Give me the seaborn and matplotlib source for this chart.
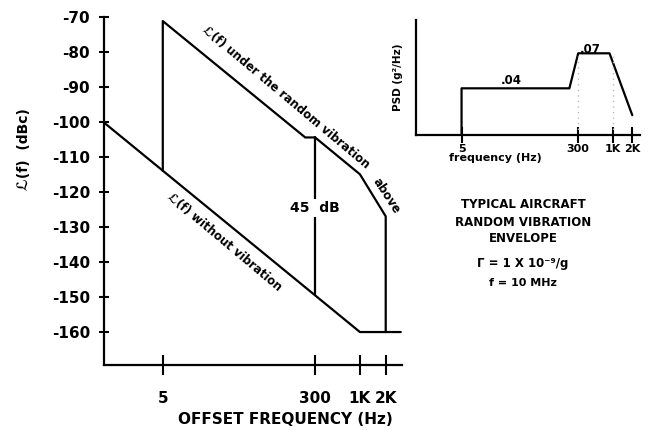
import matplotlib
matplotlib.use("Agg")
import matplotlib.pyplot as plt
import seaborn as sns
import pandas as pd

# ---- data ----
lower_freq = [1, 1000, 3000]
lower_db = [-100, -160, -160]
upper_freq = [5, 5, 230, 300, 1000, 2000, 2000]
upper_db = [-114, -71.3, -104.5, -104.5, -115, -127, -160]
marker_freq = [300, 300]
marker_db = [-104.5, -149.5]
psd_freq = [5, 5, 220, 300, 900, 2000]
psd_val = [0, 0.04, 0.04, 0.07, 0.07, 0.017]
main_xticks = [5, 300, 1000, 2000]
main_xticklabels = ["5", "300", "1K", "2K"]
main_yticks = [-70, -80, -90, -100, -110, -120, -130, -140, -150, -160]
inset_xticks = [5, 300, 1000, 2000]
inset_xticklabels = ["5", "300", "1K", "2K"]

sns.set_theme(style="white")
plt.rcParams["font.family"] = ["DejaVu Sans"]
plt.rcParams["font.weight"] = "bold"
plt.rcParams["axes.labelweight"] = "bold"
plt.rcParams["text.color"] = "black"
plt.rcParams["axes.labelcolor"] = "black"
plt.rcParams["xtick.color"] = "black"
plt.rcParams["ytick.color"] = "black"

fig = plt.figure(figsize=(6.48, 4.30), dpi=100)

# ---------------- main axes ----------------
ax = fig.add_axes([0.1605, 0.1512, 0.4599, 0.8104])
lw = 1.6
df_low = pd.DataFrame({"f": lower_freq, "db": lower_db})
df_up = pd.DataFrame({"f": upper_freq, "db": upper_db})
df_mk = pd.DataFrame({"f": marker_freq, "db": marker_db})
for d in (df_low, df_up, df_mk):
    sns.lineplot(data=d, x="f", y="db", ax=ax, sort=False, estimator=None,
                 color="black", linewidth=lw)
ax.set_xscale("log")
ax.set_xlim(1.03, 3100)
ax.set_ylim(-169.4, -70)
ax.set_xticks(main_xticks)
ax.set_xticklabels(main_xticklabels)
ax.xaxis.set_minor_locator(matplotlib.ticker.NullLocator())
ax.set_yticks(main_yticks)
ax.set_yticklabels([str(v) for v in main_yticks])
for s in ("top", "right"):
    ax.spines[s].set_visible(False)
for s in ("left", "bottom"):
    ax.spines[s].set_color("black")
    ax.spines[s].set_linewidth(1.6)
ax.tick_params(axis="y", direction="inout", length=7, width=1.5, pad=6.5,
               labelsize=11, colors="black", left=True)
ax.tick_params(axis="x", direction="inout", length=14, width=1.5, pad=12,
               labelsize=11, colors="black", bottom=True)
for t in ax.get_xticklabels() + ax.get_yticklabels():
    t.set_fontweight("bold")

ax.set_xlabel("OFFSET FREQUENCY (Hz)", fontsize=11, fontweight="bold")
ax.xaxis.set_label_coords(0.607, -0.135)
ax.set_ylabel("ℒ(f)  (dBc)", fontsize=10, fontweight="bold")
ax.yaxis.set_label_coords(-0.245, 0.62)

ax.text(135, -93, "ℒ(f) under the random vibration", rotation=-40,
        ha="center", va="center", fontsize=8.5, fontweight="bold",
        rotation_mode="anchor")
ax.text(2030, -121.3, "above", rotation=-57, ha="center", va="center",
        fontsize=8.5, fontweight="bold", rotation_mode="anchor")
ax.text(26, -134.4, "ℒ(f) without vibration", rotation=-40,
        ha="center", va="center", fontsize=8.5, fontweight="bold",
        rotation_mode="anchor")
ax.text(300, -124.7, "45  dB", ha="center", va="center", fontsize=10,
        fontweight="bold", zorder=5,
        bbox=dict(facecolor="white", edgecolor="none", pad=1.5))

# ---------------- inset PSD axes ----------------
ax2 = fig.add_axes([0.6415, 0.686, 0.3461, 0.2674])
df_psd = pd.DataFrame({"f": psd_freq, "psd": psd_val})
sns.lineplot(data=df_psd, x="f", y="psd", ax=ax2, sort=False, estimator=None,
             color="black", linewidth=1.6)
ax2.set_xscale("log")
ax2.set_xlim(1.0, 2620)
ax2.set_ylim(0, 0.0985)
ax2.vlines([300, 1000], 0, [0.068, 0.068], colors="#bbbbbb",
           linestyles=(0, (1, 3)), linewidth=1)
ax2.set_xticks(inset_xticks)
ax2.set_xticklabels(inset_xticklabels)
ax2.xaxis.set_minor_locator(matplotlib.ticker.NullLocator())
ax2.set_yticks([])
for s in ("top", "right"):
    ax2.spines[s].set_visible(False)
for s in ("left", "bottom"):
    ax2.spines[s].set_color("black")
    ax2.spines[s].set_linewidth(1.6)
ax2.tick_params(axis="x", direction="inout", length=11, width=1.5, pad=1,
                labelsize=8, colors="black", bottom=True)
for t in ax2.get_xticklabels():
    t.set_fontweight("bold")
ax2.set_xlabel("frequency (Hz)", fontsize=8, fontweight="bold")
ax2.xaxis.set_label_coords(0.354, -0.16)
ax2.set_ylabel("PSD (g²/Hz)", fontsize=7.5, fontweight="bold")
ax2.yaxis.set_label_coords(-0.055, 0.5)
ax2.text(29, 0.047, ".04", ha="center", va="center", fontsize=8.5,
         fontweight="bold")
ax2.text(450, 0.0735, ".07", ha="center", va="center", fontsize=8.5,
         fontweight="bold")

# ---------------- annotation block ----------------
fig.text(523 / 648, 1 - 205 / 430, "TYPICAL AIRCRAFT", ha="center",
         va="center", fontsize=8.5, fontweight="bold")
fig.text(523 / 648, 1 - 222 / 430, "RANDOM VIBRATION", ha="center",
         va="center", fontsize=8.5, fontweight="bold")
fig.text(523 / 648, 1 - 238 / 430, "ENVELOPE", ha="center",
         va="center", fontsize=8.5, fontweight="bold")
fig.text(523 / 648, 1 - 264 / 430, "Γ = 1 X 10⁻⁹/g", ha="center",
         va="center", fontsize=8.5, fontweight="bold")
fig.text(523 / 648, 1 - 283 / 430, "f = 10 MHz", ha="center",
         va="center", fontsize=8, fontweight="bold")

fig.savefig("out.png", dpi=100, facecolor="white")
